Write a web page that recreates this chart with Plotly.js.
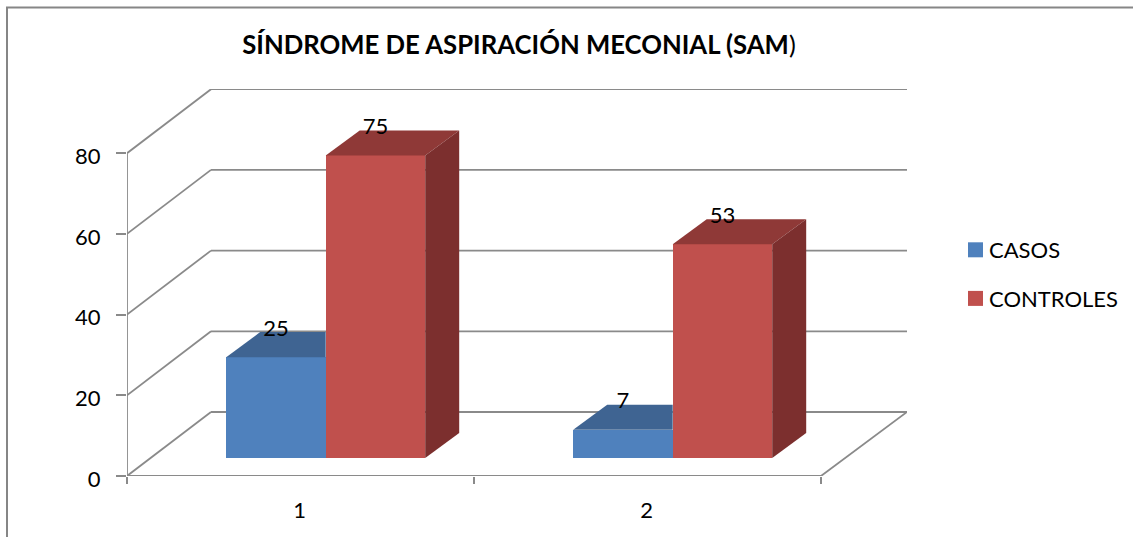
<!DOCTYPE html>
<html>
<head>
<meta charset="utf-8">
<script src="https://cdn.plot.ly/plotly-3.0.1.min.js"></script>
<style>html,body{margin:0;padding:0;background:#fff;overflow:hidden}#chart{width:1133px;height:537px}</style>
</head>
<body>
<div id="chart"></div>
<script>
const categories = [1, 2];
const casos = [25, 7];
const controles = [75, 53];
const seriesNames = ['CASOS', 'CONTROLES'];
const yTicks = [0, 20, 40, 60, 80];
const xBoundaries = [0.5, 1.5, 2.5];

const W = 1133, H = 537;
const pxX0 = 127, pxXEnd = 907, pxYTop = 89, pxY0 = 476;
const pxPerCat = 347, pxPerUnit = 4.035;
const X = px => px / pxPerCat;           // px -> x units
const Y = px => px / pxPerUnit;          // px -> y units
const xMin = 0.5, xMax = xMin + X(pxXEnd - pxX0);
const yMax = Y(pxY0 - pxYTop);

const wallDx = X(84), wallDy = Y(64);
const barW = X(99.5), barShift = X(25.2), barDx = X(34), barDy = Y(25), barBase = Y(18);
const gridColor = '#8a8a8a';

function lineShape(x0, y0, x1, y1) {
  return {type: 'line', xref: 'x', yref: 'y', x0, y0, x1, y1, layer: 'below',
          line: {color: gridColor, width: 1.8}};
}
const shapes = [];
yTicks.forEach(v => {
  shapes.push(lineShape(xMin, v, xMin + wallDx, v + wallDy));
  shapes.push(lineShape(xMin + wallDx, v + wallDy, xMax, v + wallDy));
});
shapes.push(lineShape(xMin, 0, xMin, yTicks[yTicks.length - 1]));
shapes.push(lineShape(xMin, 0, 2.5, 0));
shapes.push(lineShape(2.5, 0, xMax, wallDy));
// chart frame: left and top edges are visible, the others run off the page
shapes.push({type: 'rect', xref: 'paper', yref: 'paper', layer: 'below',
  x0: (7 - pxX0) / (pxXEnd - pxX0), x1: (1145 - pxX0) / (pxXEnd - pxX0),
  y0: (pxY0 - 560) / (pxY0 - pxYTop), y1: (pxY0 - 7.5) / (pxY0 - pxYTop),
  line: {color: '#868686', width: 2}, fillcolor: 'rgba(0,0,0,0)'});

const face = (xs, ys, color) => ({type: 'scatter', mode: 'lines', x: xs, y: ys, fill: 'toself',
  fillcolor: color, line: {width: 0, color}, hoverinfo: 'skip', showlegend: false, cliponaxis: false});

const traces = [];
const blueX = categories.map(c => c + barShift - barW / 2);
const redX = categories.map(c => c + barShift + barW / 2);

traces.push({type: 'bar', name: seriesNames[0], legendgroup: 'a', x: blueX, y: casos, base: categories.map(() => barBase),
  width: barW, marker: {color: '#4F81BD'}});
traces.push({type: 'bar', name: seriesNames[1], legendgroup: 'b', x: redX, y: controles, base: categories.map(() => barBase),
  width: barW, marker: {color: '#C0504D'}});

categories.forEach((c, i) => {
  const bTop = barBase + casos[i], rTop = barBase + controles[i];
  const bl = blueX[i] - barW / 2, br = blueX[i] + barW / 2;
  const rl = redX[i] - barW / 2, rr = redX[i] + barW / 2;
  traces.push(face([bl, bl + barDx, br, br, bl], [bTop, bTop + barDy, bTop + barDy, bTop, bTop], '#3F6492'));
  traces.push(face([rl, rl + barDx, rr + barDx, rr, rl], [rTop, rTop + barDy, rTop + barDy, rTop, rTop], '#8F3937'));
  traces.push(face([rr, rr + barDx, rr + barDx, rr, rr], [barBase, barBase + barDy, rTop + barDy, rTop, barBase], '#7C2F2E'));
});

traces.push({type: 'scatter', mode: 'text', showlegend: false, hoverinfo: 'skip', cliponaxis: false,
  x: blueX.concat(redX),
  y: casos.concat(controles).map(v => v + barBase + Y(27)),
  text: casos.concat(controles).map(String),
  textposition: 'middle center',
  textfont: {family: 'Lato, sans-serif', size: 22, color: '#000'}});

const layout = {
  width: W, height: H, paper_bgcolor: '#fff', plot_bgcolor: 'rgba(0,0,0,0)',
  margin: {l: pxX0, r: W - pxXEnd, t: pxYTop, b: H - pxY0, pad: 0, autoexpand: false},
  font: {family: 'Lato, sans-serif', size: 22, color: '#000'},
  title: {text: '<b>SÍNDROME DE ASPIRACIÓN MECONIAL (SAM</b>)', font: {family: 'Lato, sans-serif', size: 25.7, color: '#000'},
          x: 519 / W, xanchor: 'center', y: 1 - 45 / H, yanchor: 'middle'},
  barmode: 'overlay', bargap: 0,
  showlegend: true,
  legend: {x: (949 - pxX0) / (pxXEnd - pxX0), xanchor: 'left', y: (pxY0 - 229) / (pxY0 - pxYTop), yanchor: 'top',
           tracegroupgap: 17, font: {family: 'Lato, sans-serif', size: 22, color: '#000'}, bgcolor: 'rgba(0,0,0,0)'},
  xaxis: {range: [xMin, xMax], tickmode: 'array', tickvals: categories, ticktext: categories.map(String),
          ticks: '', showgrid: false, zeroline: false, showline: false, ticklabelstandoff: 19, ticklabelshift: -1,
          minor: {tickmode: 'array', tickvals: xBoundaries, ticks: 'outside', ticklen: 7, tickwidth: 1.8, tickcolor: gridColor, showgrid: false}},
  yaxis: {range: [0, yMax], tickmode: 'array', tickvals: yTicks, ticktext: yTicks.map(String),
          ticks: 'outside', ticklen: 10, tickwidth: 1.8, tickcolor: gridColor, showgrid: false, zeroline: false, showline: false,
          ticklabelstandoff: 11, ticklabelshift: 3},
  shapes
};
Plotly.newPlot('chart', traces, layout, {displayModeBar: false, responsive: false, staticPlot: true}).then(gd => {
  // The reference's legend keys are slightly larger and sit closer to their labels.
  gd.querySelectorAll('.legend .legendpoints path').forEach(p => {
    p.setAttribute('transform', (p.getAttribute('transform') || '') + ' translate(6.5,0) scale(1.25)');
  });
});
</script>
</body>
</html>
